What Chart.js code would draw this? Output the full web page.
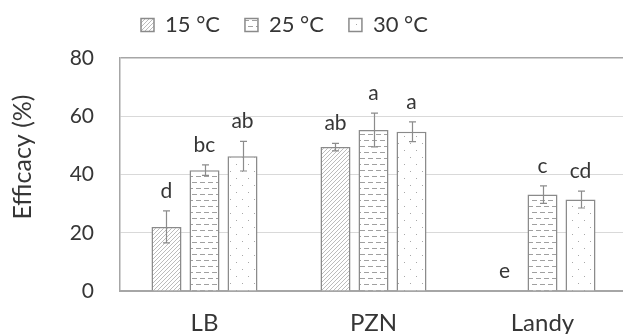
<!DOCTYPE html>
<html><head><meta charset="utf-8">
<script src="https://cdn.jsdelivr.net/npm/chart.js@4.4.1/dist/chart.umd.min.js"></script>
<style>html,body{margin:0;padding:0;overflow:hidden;background:#fff}#wrap{width:627px;height:334px;position:relative}</style>
</head><body><div id="wrap"><canvas id="c"></canvas></div>
<script>
const categories = ['LB', 'PZN', 'Landy'];
const seriesLabels = ['15 °C', '25 °C', '30 °C'];
const efficacy15 = [22.0, 49.4, 0];
const efficacy25 = [41.5, 55.3, 33.1];
const efficacy30 = [46.3, 54.7, 31.4];
const error15 = [5.5, 1.3, 0];
const error25 = [1.8, 5.8, 3.0];
const error30 = [5.1, 3.4, 2.9];
const letters15 = ['d', 'ab', 'e'];
const letters25 = ['bc', 'a', 'c'];
const letters30 = ['ab', 'a', 'cd'];
const yMin = 0, yMax = 80, yStep = 20;
const yTitle = 'Efficacy (%)';

const TEXT = '#363636';
const FONT = 'Lato';

function makePattern(kind) {
  const c = document.createElement('canvas');
  const g = c.getContext('2d');
  if (kind === 'diag') {
    c.width = 4; c.height = 4;
    g.fillStyle = '#fff'; g.fillRect(0, 0, 4, 4);
    g.strokeStyle = '#b4b4b4'; g.lineWidth = 0.9;
    g.beginPath();
    g.moveTo(0, 4); g.lineTo(4, 0);
    g.moveTo(-1, 1); g.lineTo(1, -1);
    g.moveTo(3, 5); g.lineTo(5, 3);
    g.stroke();
  } else if (kind === 'dash') {
    c.width = 8; c.height = 12;
    g.fillStyle = '#fff'; g.fillRect(0, 0, 8, 12);
    g.fillStyle = '#a0a0a0';
    g.fillRect(0, 2, 5, 1);
    g.fillRect(4, 8, 4, 1);
    g.fillRect(0, 8, 1, 1);
  } else {
    c.width = 12; c.height = 14;
    g.fillStyle = '#fff'; g.fillRect(0, 0, 12, 14);
    g.fillStyle = '#a8a8a8';
    g.fillRect(2, 3, 1, 1);
    g.fillRect(8, 10, 1, 1);
  }
  return g.createPattern(c, 'repeat');
}

const values = [efficacy15, efficacy25, efficacy30];
const errors = [error15, error25, error30];
const letters = [letters15, letters25, letters30];
const patterns = [makePattern('diag'), makePattern('dash'), makePattern('dot')];

const errorPlugin = {
  id: 'errorLetters',
  afterDatasetsDraw(chart) {
    const ctx = chart.ctx;
    const ys = chart.scales.y;
    ctx.save();
    chart.data.datasets.forEach((ds, i) => {
      const meta = chart.getDatasetMeta(i);
      meta.data.forEach((bar, j) => {
        const v = values[i][j], e = errors[i][j];
        const x = Math.round(bar.x) + 0.5;
        const yt = ys.getPixelForValue(v + e);
        const yb = ys.getPixelForValue(v - e);
        if (e > 0) {
          ctx.strokeStyle = '#8c8c8c';
          ctx.lineWidth = 1.2;
          ctx.beginPath();
          ctx.moveTo(x, yt); ctx.lineTo(x, yb);
          ctx.moveTo(x - 3.5, yt); ctx.lineTo(x + 3.5, yt);
          ctx.moveTo(x - 3.5, yb); ctx.lineTo(x + 3.5, yb);
          ctx.stroke();
        }
        ctx.fillStyle = TEXT;
        ctx.font = '21px ' + FONT;
        ctx.textAlign = 'center';
        ctx.textBaseline = 'alphabetic';
        ctx.fillText(letters[i][j], bar.x, yt - 13);
      });
    });
    ctx.restore();
  }
};

const titlePlugin = {
  id: 'yTitleDraw',
  beforeDraw(chart) {
    if (chart.legend) {
      const w = chart.legend.width;
      chart.legend.left = 116;
      chart.legend.right = 116 + w;
      chart.legend.top = -11;
    }
  },
  afterDraw(chart) {
    const ctx = chart.ctx;
    ctx.save();
    ctx.translate(23, 157);
    ctx.rotate(-Math.PI / 2);
    ctx.fillStyle = TEXT;
    ctx.font = '25px ' + FONT;
    ctx.textAlign = 'center';
    ctx.textBaseline = 'middle';
    ctx.fillText(yTitle, 0, 0);
    ctx.restore();
  }
};

Chart.defaults.font.family = FONT;
Chart.defaults.color = TEXT;

new Chart(document.getElementById('c'), {
  type: 'bar',
  data: {
    labels: categories,
    datasets: seriesLabels.map((lab, i) => ({
      label: lab,
      data: values[i],
      backgroundColor: patterns[i],
      borderColor: '#8a8a8a',
      borderWidth: 1.5,
      borderSkipped: 'start',
      categoryPercentage: 0.6746,
      barPercentage: 0.79
    }))
  },
  options: {
    responsive: true,
    maintainAspectRatio: false,
    animation: false,
    layout: { padding: { top: 1, right: 0, left: 0, bottom: 0 } },
    plugins: {
      legend: {
        position: 'top',
        align: 'start',
        labels: {
          boxWidth: 13, boxHeight: 13, padding: 25,
          font: { size: 22, family: FONT }, color: TEXT
        }
      },
      tooltip: { enabled: false }
    },
    scales: {
      x: {
        grid: { display: false, drawTicks: false },
        border: { display: true, color: '#a6a6a6', width: 2 },
        ticks: { font: { size: 24, family: FONT }, color: TEXT, padding: 18 },
        afterFit(s) { s.height = 43; }
      },
      y: {
        min: yMin, max: yMax,
        ticks: { stepSize: yStep, font: { size: 21, family: FONT }, color: TEXT, padding: 26 },
        grid: {
          drawTicks: false, tickLength: 0,
          color: c => c.tick && c.tick.value === yMax ? '#a6a6a6' : '#d9d9d9',
          lineWidth: c => c.tick && c.tick.value === yMax ? 1.5 : 1
        },
        border: { display: true, color: '#a6a6a6', width: 1.5 },
        afterFit(s) { s.width = 120; }
      }
    }
  },
  plugins: [errorPlugin, titlePlugin]
});
</script>
</body></html>
